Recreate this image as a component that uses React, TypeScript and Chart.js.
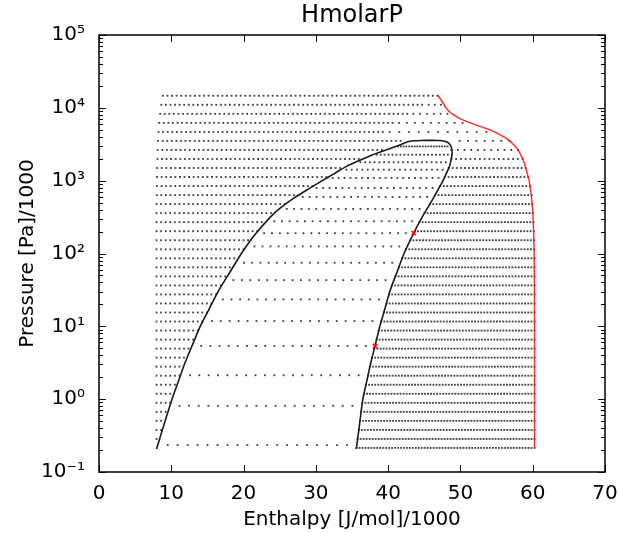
import React, { useEffect, useRef } from "react";
import { Chart, registerables } from "chart.js";

Chart.register(...registerables);

// ---------- axis ticks ----------
const X_TICKS = [0, 10, 20, 30, 40, 50, 60, 70];
const Y_TICKS = [0.1, 1, 10, 100, 1000, 10000, 100000];
const Y_TICK_LABELS = ["10\u207B\u00B9", "10\u2070", "10\u00B9", "10\u00B2", "10\u00B3", "10\u2074", "10\u2075"];

// ---------- isobar rows (pressure kPa) ----------
const ROW_P = [0.214, 0.284, 0.378, 0.504, 0.67, 0.891, 1.186, 1.578, 2.099, 2.793, 3.715, 4.943, 6.577, 8.75, 11.64, 15.49, 20.61, 27.42, 36.48, 48.53, 64.57, 85.9, 114.3, 152.1, 202.3, 269.2, 358.1, 476.4, 633.9, 843.3, 1122, 1493, 1986, 2642, 3516, 4677, 6223, 8279, 11015, 14655];
// first (liquid-side) dot of each row
const ROW_START = [7.96, 7.96, 7.96, 7.96, 7.96, 7.96, 7.96, 7.96, 7.96, 7.96, 7.96, 7.96, 7.96, 7.96, 7.96, 7.96, 7.96, 7.96, 7.96, 7.96, 7.96, 7.96, 7.96, 7.96, 7.96, 7.96, 7.96, 7.96, 7.99, 8.01, 8.03, 8.05, 8.08, 8.12, 8.17, 8.24, 8.33, 8.46, 8.62, 8.84];
// number of closely spaced (liquid-side) dots in each row
const ROW_N_DENSE = [0, 1, 2, 2, 3, 4, 4, 5, 6, 6, 7, 8, 9, 10, 11, 12, 13, 14, 15, 16, 17, 18, 20, 21, 23, 24, 26, 29, 32, 35, 38, 41, 45, 50, 54, 50, 52, 55, 58, 61];
const ROW_DENSE_STEP = 0.633;
const ROW_TOTAL = 61;
// vapour-side dots: first and last enthalpy of each row
const ROW_SPARSE_FROM = [35.62, 35.78, 35.95, 36.11, 36.27, 36.43, 36.66, 36.94, 37.21, 37.48, 37.78, 38.09, 38.4, 38.7, 39.04, 39.4, 39.76, 40.12, 40.54, 41.01, 41.48, 41.95, 42.48, 43.07, 43.68, 44.33, 45.02, 45.77, 46.49, 47.19, 47.83, 48.38, 48.75, 48.72, 49.9, 40.2, 41.5, 43.5, 45.6, 46.82];
const ROW_SPARSE_TO = [60.25, 60.25, 60.25, 60.25, 60.25, 60.25, 60.25, 60.25, 60.25, 60.25, 60.25, 60.25, 60.25, 60.25, 60.25, 60.25, 60.25, 60.25, 60.25, 60.25, 60.25, 60.25, 60.2, 60.18, 60.15, 60.1, 60.0, 59.93, 59.85, 59.6, 59.37, 59.03, 58.6, 57.95, 56.8, 53.6, 50.3, 48.2, 47.3, 46.82];

// ---------- two-phase rows ----------
const TP_P = [0.234, 0.81, 2.13, 5.37, 11.8, 23.4, 43.1, 74.6, 125, 190, 277, 409, 598, 794, 1089, 1415, 1791, 2270, 2951];
const TP_HL = [8.13, 9.81, 11.28, 12.87, 14.38, 15.92, 17.43, 18.91, 20.39, 21.75, 23.19, 24.95, 27.23, 29.22, 31.53, 33.47, 35.5, 37.87, 41.0];
const TP_HV = [35.67, 36.38, 37.22, 38.18, 39.06, 39.92, 40.81, 41.72, 42.66, 43.53, 44.39, 45.37, 46.35, 47.04, 47.77, 48.28, 48.64, 48.8, 48.6];
const TP_QUALITIES = [0.05, 0.1, 0.15, 0.2, 0.25, 0.3, 0.35, 0.4, 0.45, 0.5, 0.55, 0.6, 0.65, 0.7, 0.75, 0.8, 0.85, 0.9, 0.95];

// ---------- saturation dome ----------
const DOME_H = [7.96, 8.53, 9.15, 10.1, 11.0, 11.9, 12.95, 14.0, 15.3, 16.6, 18.15, 19.7, 21.5, 23.7, 25.1, 26.8, 28.8, 30.9, 32.6, 34.3, 36.1, 37.7, 39.1, 40.5, 41.6, 42.6, 43.5, 44.5, 46.0, 47.0, 47.8, 48.35, 48.7, 48.85, 48.8, 48.5, 48.05, 47.6, 46.9, 46.2, 44.7, 43.54, 42.2, 41.25, 40.3, 39.58, 38.85, 38.23, 37.6, 37.05, 36.5, 36.1, 35.6];
const DOME_P = [0.207, 0.316, 0.501, 1.0, 1.78, 3.16, 5.62, 10, 17.8, 31.6, 56.2, 100, 178, 316, 422, 562, 750, 1000, 1259, 1585, 1905, 2239, 2512, 2818, 3090, 3388, 3530, 3565, 3570, 3555, 3480, 3300, 2950, 2500, 2150, 1585, 1260, 1000, 750, 562, 316, 190, 100, 56.2, 31.6, 17.8, 10, 5.62, 3.16, 1.78, 1.0, 0.5, 0.207];

// ---------- red boundary (max temperature) ----------
const RED_H = [46.85, 47.5, 48.2, 49.1, 50.3, 52.0, 54.0, 55.5, 56.5, 57.5, 58.1, 58.7, 59.1, 59.5, 59.85, 60.05, 60.2, 60.25, 60.25];
const RED_P = [15000, 12023, 9397, 7943, 6855, 5888, 5012, 4266, 3715, 3020, 2512, 1905, 1413, 1000, 562, 316, 100, 10, 0.214];

// ---------- marked states ----------
const MARK_H = [43.54, 38.18];
const MARK_P = [190, 5.37];

function buildDots() {
  const pts: { x: number; y: number }[] = [];
  ROW_P.forEach((p, i) => {
    const nd = ROW_N_DENSE[i];
    for (let k = 0; k < nd; k++) pts.push({ x: ROW_START[i] + k * ROW_DENSE_STEP, y: p });
    const ns = ROW_TOTAL - nd;
    for (let k = 0; k < ns; k++) {
      const x = ns === 1 ? ROW_SPARSE_FROM[i] : ROW_SPARSE_FROM[i] + ((ROW_SPARSE_TO[i] - ROW_SPARSE_FROM[i]) * k) / (ns - 1);
      pts.push({ x, y: p });
    }
  });
  TP_P.forEach((p, i) => {
    TP_QUALITIES.forEach((q) => pts.push({ x: TP_HL[i] + (TP_HV[i] - TP_HL[i]) * q, y: p }));
  });
  return pts;
}

const framePlugin = {
  id: "frameTicks",
  afterDatasetsDraw(chart: any) {
    const { ctx, chartArea, scales } = chart;
    const { left, right, top, bottom } = chartArea;
    const xs = scales.x;
    const ys = scales.y;
    ctx.save();
    ctx.strokeStyle = "#000";
    ctx.lineWidth = 1;
    ctx.beginPath();
    X_TICKS.forEach((v) => {
      const px = Math.round(xs.getPixelForValue(v)) + 0.5;
      ctx.moveTo(px, bottom);
      ctx.lineTo(px, bottom - 7);
      ctx.moveTo(px, top);
      ctx.lineTo(px, top + 7);
    });
    for (let e = -1; e <= 5; e++) {
      for (let m = 1; m <= 9; m++) {
        const v = m * Math.pow(10, e);
        if (v > 100000 * 1.0001) break;
        const py = Math.round(ys.getPixelForValue(v)) + 0.5;
        const len = m === 1 ? 7 : 4;
        ctx.moveTo(left, py);
        ctx.lineTo(left + len, py);
        ctx.moveTo(right, py);
        ctx.lineTo(right - len, py);
      }
    }
    ctx.stroke();
    ctx.lineWidth = 1.5;
    ctx.strokeRect(left, top, right - left, bottom - top);
    ctx.restore();
  },
};

export default function App() {
  const ref = useRef<HTMLCanvasElement | null>(null);
  useEffect(() => {
    if (!ref.current) return;
    Chart.defaults.font.family = "'DejaVu Sans', sans-serif";
    Chart.defaults.color = "#000";
    const chart = new Chart(ref.current, {
      type: "scatter",
      data: {
        datasets: [
          {
            label: "marks",
            data: MARK_H.map((h, i) => ({ x: h, y: MARK_P[i] })),
            pointStyle: "crossRot",
            pointRadius: 3,
            borderColor: "#ff0000",
            backgroundColor: "#ff0000",
            borderWidth: 1.5,
            showLine: false,
          },
          {
            label: "dome",
            data: DOME_H.map((h, i) => ({ x: h, y: DOME_P[i] })),
            showLine: true,
            borderColor: "#1a1a1a",
            borderWidth: 1.6,
            pointRadius: 0,
            tension: 0.25,
          },
          {
            label: "tmax",
            data: RED_H.map((h, i) => ({ x: h, y: RED_P[i] })),
            showLine: true,
            borderColor: "rgba(255,20,20,0.9)",
            borderWidth: 1.4,
            pointRadius: 0,
            tension: 0.3,
          },
          {
            label: "grid",
            data: buildDots(),
            showLine: false,
            pointStyle: "rect",
            pointRadius: 1.3,
            pointBorderWidth: 0,
            backgroundColor: "rgba(20,20,20,0.8)",
            borderColor: "rgba(0,0,0,0)",
          },
        ],
      },
      options: {
        animation: false,
        responsive: false,
        events: [],
        layout: { padding: { left: 0, right: 14, top: 0, bottom: 0 } },
        plugins: {
          legend: { display: false },
          tooltip: { enabled: false },
          title: {
            display: true,
            text: "HmolarP",
            fullSize: false,
            color: "#000",
            font: { size: 24, weight: "normal" },
            padding: { top: 1, bottom: 5.2 },
          },
        },
        scales: {
          x: {
            type: "linear",
            min: 0,
            max: 70,
            grid: { display: false, drawTicks: false },
            border: { display: false },
            ticks: { stepSize: 10, padding: 10, maxRotation: 0, color: "#000", font: { size: 20 } },
            title: {
              display: true,
              text: "Enthalpy [J/mol]/1000",
              color: "#000",
              font: { size: 20 },
              padding: { top: 0, bottom: 1 },
            },
            afterFit: (s: any) => {
              s.height = 61;
              s.paddingLeft = 0;
              s.paddingRight = 0;
            },
          },
          y: {
            type: "logarithmic",
            min: 0.1,
            max: 100000,
            grid: { display: false, drawTicks: false },
            border: { display: false },
            afterBuildTicks: (s: any) => {
              s.ticks = Y_TICKS.map((v) => ({ value: v, major: true }));
            },
            ticks: {
              padding: 14,
              color: "#000",
              font: { size: 20 },
              autoSkip: false,
              callback: (_v: any, i: number) => Y_TICK_LABELS[i],
            },
            title: {
              display: true,
              text: "Pressure [Pa]/1000",
              color: "#000",
              font: { size: 20 },
              padding: { top: 16, bottom: 0 },
            },
            afterFit: (s: any) => {
              s.width = 99;
              s.paddingTop = 0;
              s.paddingBottom = 0;
            },
          },
        },
      },
      plugins: [framePlugin],
    } as any);
    return () => chart.destroy();
  }, []);
  return (
    <div style={{ position: "fixed", left: 0, top: 0, width: 619, height: 533, background: "#fff" }}>
      <canvas ref={ref} width={619} height={533} style={{ display: "block" }} />
    </div>
  );
}
